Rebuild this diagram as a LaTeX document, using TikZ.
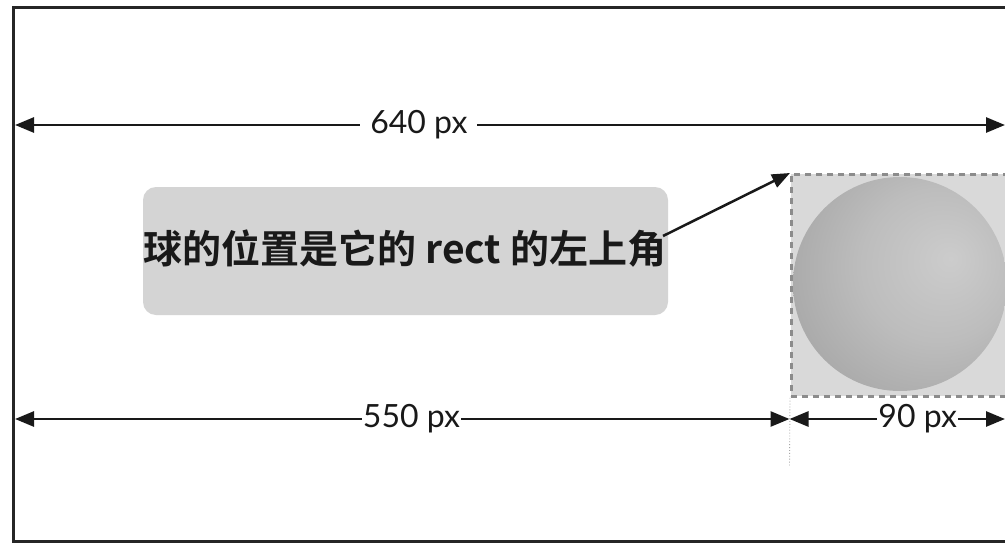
\documentclass[tikz,border=0pt]{standalone}
\usepackage{fontspec}
\setmainfont{Lato}
\newfontfamily\cjkfont{Noto Sans CJK SC Bold}
\usetikzlibrary{arrows.meta,calc}
\pgfdeclareradialshading{ballshade}{\pgfpoint{12bp}{6bp}}{%
  color(0bp)=(black!20); color(18bp)=(black!26); color(40bp)=(black!37);
  color(58bp)=(black!47); color(70bp)=(black!50)}
\tikzset{
  frameline/.style={line width=3pt, black!85},
  dimline/.style={line width=2.7pt, black!90},
  tipLR/.style={{Triangle[length=19pt,width=15pt]}-{Triangle[length=19pt,width=15pt]}},
  dimlabel/.style={fill=white, font=\fontsize{32}{34}\selectfont, text=black!90},
  notebox/.style={fill=black!17, rounded corners=13pt, minimum width=525pt, minimum height=128pt},
  rectbox/.style={draw=black!45, dash pattern=on 6pt off 5pt, line width=2.8pt,
    fill=black!15, anchor=north west, minimum width=240pt, minimum height=222pt},
  guide/.style={draw=black!35, line width=0.9pt, dotted}
}
\begin{document}
\begin{tikzpicture}[x=1pt,y=-1pt]
  \useasboundingbox (0,0) rectangle (1005,544);
  \clip (0,0) rectangle (1005,544);
  \fill[white] (0,0) rectangle (1005,544);

  % outer frame (the 640 px area)
  \draw[frameline] (13.5,7.5) rectangle (1030,541.5);

  % the ball and its bounding rect
  \node[rectbox] (r) at (790,173) {};
  \shade[shading=ballshade] (900,284) circle (107);

  % caption box
  \node[notebox] (tb) at (405.5,251) {};
  \node[font=\cjkfont\fontsize{39}{42}\selectfont, text=black!90, inner sep=0pt] (txt) at (405,249)
    {球的位置是它的 rect 的左上角};
  \coordinate (from) at (663,236);
  \draw[dimline, line width=2.5pt, -{Triangle[length=18pt,width=14pt]}] (from) -- (r.north west);

  % dimension end points
  \coordinate (tl) at (15,125);
  \coordinate (tr) at (1005,125);
  \coordinate (bl) at (15,419);
  \coordinate (bm) at (789.5,419);
  \coordinate (br) at (1005,419);
  \coordinate (gb) at (789.5,466);

  % width of the whole area
  \draw[dimline, tipLR] (tl) -- node[dimlabel, pos=0.408, inner xsep=10pt] (w640) {640 px} (tr);

  % position of the ball
  \draw[dimline, tipLR] (bl) -- node[dimlabel, pos=0.512, inner xsep=1pt] (w550) {550 px} (bm);

  % width of the ball
  \draw[dimline, tipLR] (bm) -- node[dimlabel, pos=0.595, inner xsep=1pt] (w90) {90 px} (br);

  % guide from the rect corner downwards
  \draw[guide] (r.south west) -- (gb);
\end{tikzpicture}
\end{document}
